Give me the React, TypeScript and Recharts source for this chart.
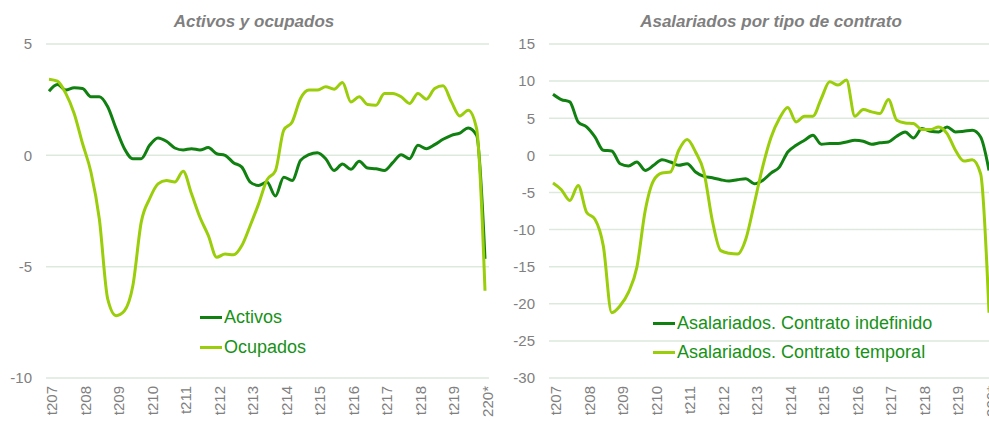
import React from 'react';
import { LineChart, Line, XAxis, YAxis, CartesianGrid } from 'recharts';

// Quarter categories 2007T1 .. 2020T1
const quarters: string[] = [];
for (let y = 2007; y <= 2020; y++) {
  for (let q = 1; q <= 4; q++) {
    if (y === 2020 && q > 1) break;
    quarters.push(`${q}T${y}`);
  }
}

const tickLabels = ['t207', 't208', 't209', 't210', 't211', 't212', 't213', 't214', 't215', 't216', 't217', 't218', 't219', '220*'];
const tickQuarters = quarters.filter((q) => q.startsWith('1T'));

const activos = [
  2.88, 3.18, 2.93, 3.03, 3.0, 2.63, 2.63, 2.18, 1.2, 0.3, -0.15, -0.15, 0.45, 0.78, 0.63, 0.33, 0.24, 0.3, 0.24, 0.35,
  0.07, 0.0, -0.33, -0.53, -1.2, -1.35, -1.2, -1.83, -0.98, -1.13, -0.23, 0.03, 0.12, -0.15, -0.68, -0.39, -0.63, -0.27,
  -0.57, -0.6, -0.68, -0.33, 0.03, -0.15, 0.45, 0.3, 0.48, 0.72, 0.9, 1.0, 1.23, 0.9, -4.65,
];
const ocupados = [
  3.42, 3.33, 2.78, 1.88, 0.53, -0.75, -2.85, -6.45, -7.2, -6.98, -5.86, -3.0, -1.95, -1.28, -1.13, -1.2, -0.72, -1.73,
  -2.78, -3.6, -4.58, -4.43, -4.47, -4.05, -3.15, -2.18, -1.1, -0.7, 1.13, 1.5, 2.55, 2.93, 2.93, 3.08, 2.97, 3.27, 2.4,
  2.63, 2.28, 2.25, 2.78, 2.78, 2.63, 2.33, 2.78, 2.52, 3.0, 3.12, 2.4, 1.77, 2.03, 1.2, -6.08,
];
const indefinido = [
  8.24, 7.52, 7.2, 4.5, 3.83, 2.48, 0.68, 0.59, -1.13, -1.44, -0.9, -2.03, -1.35, -0.59, -0.9, -1.35, -1.13, -2.25, -2.84,
  -3.02, -3.29, -3.47, -3.29, -3.15, -3.83, -3.38, -2.4, -1.58, 0.45, 1.35, 2.03, 2.7, 1.49, 1.6, 1.6, 1.8, 2.03, 1.9,
  1.49, 1.7, 1.8, 2.57, 3.15, 2.34, 3.6, 3.24, 3.15, 3.83, 3.15, 3.24, 3.38, 2.48, -2.03,
];
const temporal = [
  -3.74, -4.64, -6.08, -4.05, -7.66, -8.6, -12.2, -21.2, -20.27, -18.47, -15.1, -7.43, -3.38, -2.39, -2.25, 0.68, 2.12,
  0.45, -2.25, -8.78, -12.84, -13.2, -13.3, -11.26, -6.53, -1.58, 2.4, 4.95, 6.44, 4.5, 5.27, 5.27, 7.66, 9.9, 9.46,
  10.14, 5.27, 6.17, 5.86, 5.63, 7.52, 4.73, 4.37, 4.28, 3.47, 3.47, 3.83, 2.93, 0.68, -0.77, -0.6, -2.48, -21.2,
];

const leftTicks = [-10, -5, 0, 5];
const rightTicks = [-30, -25, -20, -15, -10, -5, 0, 5, 10, 15];

const leftData = quarters.map((q, i) => ({ q, activos: activos[i], ocupados: ocupados[i] }));
const rightData = quarters.map((q, i) => ({ q, indefinido: indefinido[i], temporal: temporal[i] }));

const DARK = '#108010';
const LIGHT = '#9acd0a';
const TEXT_GREEN = '#169216';
const GREY = '#808080';
const GRID = '#dde9dd';

const fmtTick = (v: string) => {
  const idx = tickQuarters.indexOf(v);
  return idx >= 0 ? tickLabels[idx] : '';
};

const XTick = (props: any) => {
  const { x, y, payload } = props;
  return (
    <text
      x={0}
      y={0}
      transform={`translate(${x + 8},${y + 8}) rotate(-90)`}
      textAnchor="end"
      fill={GREY}
      fontSize={15}
    >
      {fmtTick(payload.value)}
    </text>
  );
};

const titleStyle: React.CSSProperties = {
  position: 'absolute',
  top: 12,
  fontSize: 17,
  lineHeight: '20px',
  fontWeight: 'bold',
  fontStyle: 'italic',
  color: '#7f7f7f',
  textAlign: 'center',
  whiteSpace: 'nowrap',
};

const LegendRow = ({ color, label }: { color: string; label: string }) => (
  <div style={{ display: 'flex', alignItems: 'center', whiteSpace: 'nowrap' }}>
    <span style={{ display: 'inline-block', width: 22, height: 3, background: color, marginRight: 2 }} />
    <span>{label}</span>
  </div>
);

export default function App() {
  return (
    <div
      style={{
        position: 'absolute',
        left: 0,
        top: 0,
        width: 989,
        height: 421,
        background: '#ffffff',
        overflow: 'hidden',
        fontFamily: '"Liberation Sans", Arial, sans-serif',
      }}
    >
      <div style={{ position: 'absolute', left: 0, top: 0 }}>
        <LineChart width={495} height={421} data={leftData} margin={{ top: 44, right: 6, bottom: 0, left: 0 }}>
          <CartesianGrid vertical={false} stroke={GRID} strokeWidth={1.5} />
          <XAxis
            dataKey="q"
            ticks={tickQuarters}
            interval={0}
            axisLine={false}
            tickLine={false}
            tickSize={0}
            tickMargin={0}
            height={43}
            padding={{ left: 3, right: 4 }}
            tick={<XTick />}
          />
          <YAxis
            domain={[-10, 5]}
            ticks={leftTicks}
            axisLine={false}
            tickLine={false}
            tickSize={0}
            tickMargin={14}
            width={46}
            tick={{ fill: GREY, fontSize: 15 }}
          />
          <Line type="monotone" dataKey="activos" stroke={DARK} strokeWidth={3} dot={false} isAnimationActive={false} />
          <Line type="monotone" dataKey="ocupados" stroke={LIGHT} strokeWidth={3} dot={false} isAnimationActive={false} />
        </LineChart>
      </div>
      <div style={{ position: 'absolute', left: 495, top: 0 }}>
        <LineChart width={494} height={421} data={rightData} margin={{ top: 44, right: 0, bottom: 0, left: 0 }}>
          <CartesianGrid vertical={false} stroke={GRID} strokeWidth={1.5} />
          <XAxis
            dataKey="q"
            ticks={tickQuarters}
            interval={0}
            axisLine={false}
            tickLine={false}
            tickSize={0}
            tickMargin={0}
            height={43}
            padding={{ left: 4, right: 0 }}
            tick={<XTick />}
          />
          <YAxis
            domain={[-30, 15]}
            ticks={rightTicks}
            axisLine={false}
            tickLine={false}
            tickSize={0}
            tickMargin={14}
            width={54}
            tick={{ fill: GREY, fontSize: 15 }}
          />
          <Line type="monotone" dataKey="indefinido" stroke={DARK} strokeWidth={3} dot={false} isAnimationActive={false} />
          <Line type="monotone" dataKey="temporal" stroke={LIGHT} strokeWidth={3} dot={false} isAnimationActive={false} />
        </LineChart>
      </div>

      <div style={{ ...titleStyle, left: 0, width: 508 }}>Activos y ocupados</div>
      <div style={{ ...titleStyle, left: 571, width: 400 }}>Asalariados por tipo de contrato</div>

      <div style={{ position: 'absolute', left: 200, top: 302, fontSize: 18, lineHeight: '30px', color: TEXT_GREEN }}>
        <LegendRow color={DARK} label="Activos" />
        <LegendRow color={LIGHT} label="Ocupados" />
      </div>
      <div style={{ position: 'absolute', left: 653, top: 309, fontSize: 18, lineHeight: '29px', color: TEXT_GREEN }}>
        <LegendRow color={DARK} label="Asalariados. Contrato indefinido" />
        <LegendRow color={LIGHT} label="Asalariados. Contrato temporal" />
      </div>
    </div>
  );
}
